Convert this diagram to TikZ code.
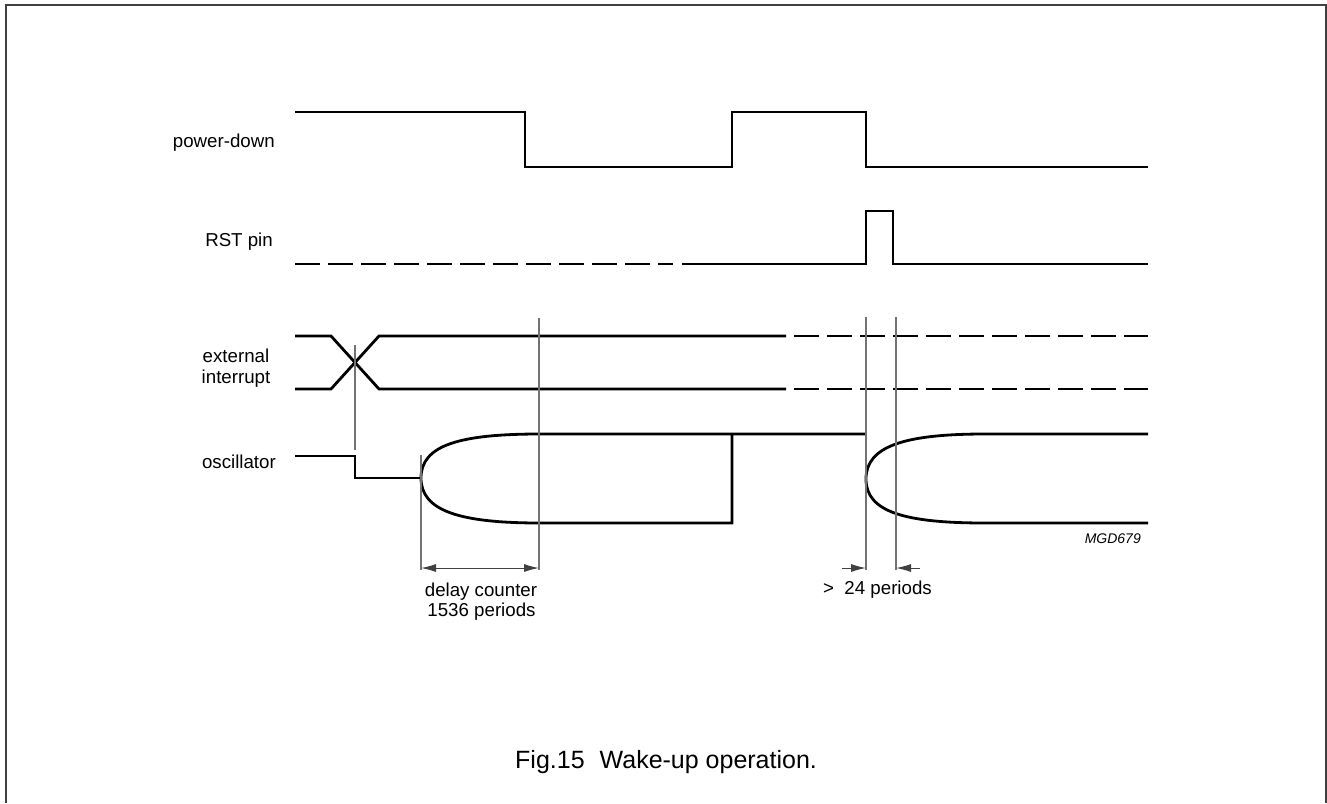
\documentclass[tikz,border=0pt]{standalone}
\usepackage{fontspec}
\setmainfont{Liberation Sans}
\usetikzlibrary{arrows.meta}
\begin{document}
\begin{tikzpicture}[x=1pt,y=-1pt,
  sig/.style={line width=2.8pt, line join=miter},
  dsig/.style={sig, dash pattern=on 25pt off 8pt},
  guide/.style={line width=1.2pt, draw=black!55},
  dimline/.style={line width=1pt, draw=black!75},
  tip/.style={-{Latex[length=15pt,width=8pt]}},
  lbl/.style={font=\fontsize{18.7}{22.5}\selectfont, inner sep=0pt},
  note/.style={font=\fontsize{14}{16}\selectfont\itshape, inner sep=0pt},
  captionstyle/.style={font=\fontsize{25}{30}\selectfont, inner sep=0pt},
]
\useasboundingbox (0,0) rectangle (1327,803);
% frame
\draw[line width=2pt, black!75] (6,803) -- (6,5) -- (1326,5) -- (1326,803);

% labels
\node[lbl, anchor=base east] (lpd) at (275,147) {power-down};
\node[lbl, anchor=base east] (lrst) at (273,246) {RST pin};
\node[lbl, anchor=base] (lext1) at (236,362) {external};
\node[lbl, anchor=base] (lext2) at (236,383) {interrupt};
\node[lbl, anchor=base east] (losc) at (276,468) {oscillator};

% power-down
\draw[sig] (295,112) -- (525,112) -- (525,167) -- (732,167) -- (732,112) -- (866,112) -- (866,167) -- (1148,167);

% RST pin
\draw[dsig] (295,264) -- (673,264);
\draw[sig] (682,264) -- (866,264) -- (866,211) -- (893,211) -- (893,264) -- (1148,264);

% external interrupt
\draw[sig] (295,336) -- (331,336) -- (379,389) -- (786,389);
\draw[sig] (295,389) -- (331,389) -- (379,336) -- (786,336);
\draw[dsig] (794,336) -- (1148,336);
\draw[dsig] (794,389) -- (1148,389);

% oscillator
\draw[sig] (295,456) -- (355,456) -- (355,478) -- (421,478);
\draw[sig] (421,478) .. controls (421,445) and (460,434) .. (540,434) -- (866,434);
\draw[sig] (421,478) .. controls (421,511) and (460,523) .. (540,523) -- (732,523) -- (732,434);
\draw[sig] (866,479) .. controls (866,446) and (905,434) .. (985,434) -- (1148,434);
\draw[sig] (866,479) .. controls (866,512) and (905,523) .. (985,523) -- (1148,523);

% guide lines
\coordinate (g1t) at (355,345); \coordinate (g1b) at (355,450);
\coordinate (g2t) at (421,455); \coordinate (g2b) at (421,570);
\coordinate (g3t) at (539,318); \coordinate (g3b) at (539,570);
\coordinate (g4t) at (866,317); \coordinate (g4b) at (866,570);
\coordinate (g5t) at (896,317); \coordinate (g5b) at (896,570);
\draw[guide] (g1t) -- (g1b);
\draw[guide] (g2t) -- (g2b);
\draw[guide] (g3t) -- (g3b);
\draw[guide] (g4t) -- (g4b);
\draw[guide] (g5t) -- (g5b);

% dimension arrows
\coordinate (d1a) at (421,568); \coordinate (d1b) at (539,568);
\draw[dimline, {Latex[length=15pt,width=8pt]}-{Latex[length=15pt,width=8pt]}] (d1a) -- (d1b);
\coordinate (d2a) at (842,568); \coordinate (d2b) at (866,568);
\coordinate (d3a) at (920,568); \coordinate (d3b) at (896,568);
\draw[dimline, tip] (d2a) -- (d2b);
\draw[dimline, tip] (d3a) -- (d3b);

\node[lbl, anchor=base] (tdc1) at (481,596) {delay counter};
\node[lbl, anchor=base] (tdc2) at (481.5,616) {1536 periods};
\node[lbl, anchor=base east] (t24) at (932,594) {>\ \ 24 periods};

\node[note, anchor=base east] (mgd) at (1141,543) {MGD679};
\node[captionstyle, anchor=base west] (capt) at (515,768) {Fig.15\hspace{15pt}Wake-up operation.};
\end{tikzpicture}
\end{document}
